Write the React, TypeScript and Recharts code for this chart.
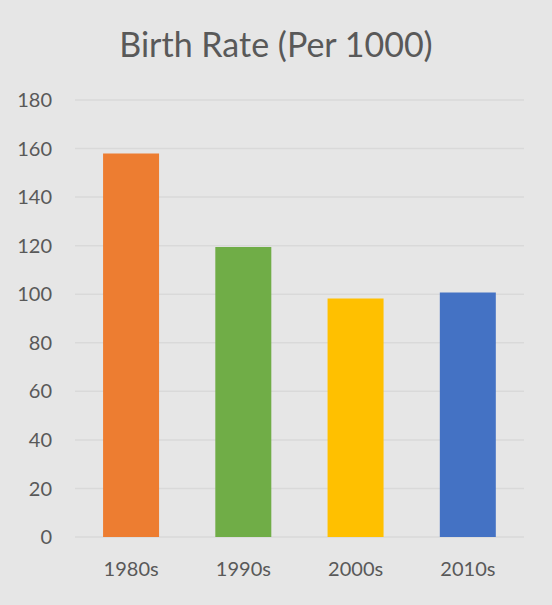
import { BarChart, Bar, XAxis, YAxis, CartesianGrid, Cell } from 'recharts';

const decades = ['1980s', '1990s', '2000s', '2010s'];
const birthRates = [158, 119.5, 98.2, 100.7];
const barColors = ['#ED7D31', '#70AD47', '#FFC000', '#4472C4'];
const yTicks = [0, 20, 40, 60, 80, 100, 120, 140, 160, 180];

const data = decades.map((name, i) => ({ name, value: birthRates[i] }));

const font = 'Lato, "Open Sans", sans-serif';

const App = () => {
  return (
    <div
      style={{
        position: 'absolute',
        left: 0,
        top: 0,
        width: 552,
        height: 605,
        background: '#E6E6E6',
        fontFamily: font,
      }}
    >
      <div
        style={{
          height: 80,
          lineHeight: '88px',
          textAlign: 'center',
          fontSize: 34,
          color: '#595959',
        }}
      >
        Birth Rate (Per 1000)
      </div>
      <BarChart
        width={552}
        height={525}
        data={data}
        margin={{ top: 20, right: 28, bottom: 28, left: 0 }}
        barCategoryGap="25%"
      >
        <CartesianGrid vertical={false} stroke="#D9D9D9" strokeWidth={1.5} />
        <XAxis
          dataKey="name"
          axisLine={false}
          tickLine={false}
          tickSize={0}
          tickMargin={25}
          height={40}
          tick={{ fill: '#595959', fontSize: 20, fontFamily: font }}
        />
        <YAxis
          domain={[0, 180]}
          ticks={yTicks}
          axisLine={false}
          tickLine={false}
          tickSize={0}
          tickMargin={23}
          width={75}
          tick={{ fill: '#595959', fontSize: 20, fontFamily: font }}
        />
        <Bar dataKey="value" isAnimationActive={false}>
          {data.map((d, i) => (
            <Cell key={d.name} fill={barColors[i]} />
          ))}
        </Bar>
      </BarChart>
    </div>
  );
};

export default App;
